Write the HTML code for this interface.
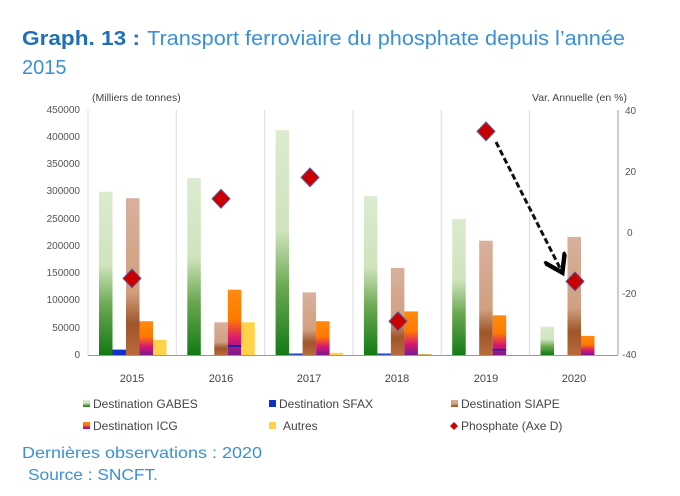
<!DOCTYPE html>
<html><head><meta charset="utf-8"><style>
body{margin:0;background:#fff;}
svg{display:block;font-family:"Liberation Sans",sans-serif;}
</style></head><body>
<svg width="680" height="496" viewBox="0 0 680 496" xmlns="http://www.w3.org/2000/svg">
<defs>
<linearGradient id="gG" x1="0" y1="0" x2="0" y2="1">
<stop offset="0" stop-color="#dcebd0"/><stop offset="0.45" stop-color="#cfe3bd"/><stop offset="0.7" stop-color="#6aa84f"/><stop offset="1" stop-color="#137a13"/></linearGradient>
<linearGradient id="gS" x1="0" y1="0" x2="0" y2="1">
<stop offset="0" stop-color="#d8b09c"/><stop offset="0.6" stop-color="#d0a080"/><stop offset="0.8" stop-color="#a0552a"/><stop offset="1" stop-color="#b86a3a"/></linearGradient>
<linearGradient id="gI" x1="0" y1="0" x2="0" y2="1">
<stop offset="0" stop-color="#ff8a10"/><stop offset="0.45" stop-color="#ff7a00"/><stop offset="0.75" stop-color="#d81870"/><stop offset="1" stop-color="#7a1a90"/></linearGradient>
<marker id="ah" markerWidth="8" markerHeight="8" refX="5" refY="4" orient="auto"><path d="M0,0 L6,4 L0,8" fill="none" stroke="#000" stroke-width="1.5"/></marker>
</defs>
<text x="22" y="45" font-size="20" fill="#1f6fb8" font-weight="bold" textLength="118" lengthAdjust="spacingAndGlyphs">Graph. 13 :</text>
<text x="147" y="45" font-size="20" fill="#3a90d6" textLength="478" lengthAdjust="spacingAndGlyphs">Transport ferroviaire du phosphate depuis l’année</text>
<text x="22" y="74" font-size="20" fill="#3a90d6">2015</text>
<text x="92" y="101" font-size="10.5" fill="#444">(Milliers de tonnes)</text>
<text x="532" y="101" font-size="10.5" fill="#444">Var. Annuelle (en %)</text>
<g font-size="10" fill="#555" text-anchor="end">
<text x="80" y="113">450000</text><text x="80" y="140">400000</text><text x="80" y="167">350000</text><text x="80" y="194">300000</text><text x="80" y="222">250000</text><text x="80" y="249">200000</text><text x="80" y="276">150000</text><text x="80" y="303">100000</text><text x="80" y="331">50000</text><text x="80" y="358">0</text>
</g>
<g font-size="10" fill="#555">
<text x="625" y="114">40</text><text x="625" y="175">20</text><text x="627" y="236">0</text><text x="622" y="297">-20</text><text x="622" y="358">-40</text>
</g>
<g stroke="#ddd" stroke-width="1">
<line x1="176.3" y1="110" x2="176.3" y2="355"/><line x1="264.6" y1="110" x2="264.6" y2="355"/><line x1="352.9" y1="110" x2="352.9" y2="355"/><line x1="441.2" y1="110" x2="441.2" y2="355"/><line x1="529.5" y1="110" x2="529.5" y2="355"/>
<line x1="88" y1="110" x2="88" y2="355"/>
</g>
<line x1="618" y1="110" x2="618" y2="355" stroke="#999"/>
<line x1="88" y1="355.5" x2="618" y2="355.5" stroke="#999"/>
<rect x="99" y="191.7" width="13.5" height="163.3" fill="url(#gG)"/>
<rect x="112.5" y="349.6" width="13.5" height="5.4" fill="#1030d0"/>
<rect x="126" y="198.2" width="13.5" height="156.8" fill="url(#gS)"/>
<rect x="139.5" y="321.2" width="13.5" height="33.8" fill="url(#gI)"/>
<rect x="153" y="339.8" width="13.5" height="15.2" fill="#ffd24a"/>
<rect x="187.3" y="178.1" width="13.5" height="176.9" fill="url(#gG)"/>
<rect x="214.3" y="322.3" width="13.5" height="32.7" fill="url(#gS)"/>
<rect x="227.8" y="289.7" width="13.5" height="65.3" fill="url(#gI)"/>
<rect x="227.8" y="345" width="13.5" height="2" fill="#2020b0"/>
<rect x="241.3" y="322.3" width="13.5" height="32.7" fill="#ffd24a"/>
<rect x="275.6" y="130.2" width="13.5" height="224.8" fill="url(#gG)"/>
<rect x="289.1" y="353.4" width="13.5" height="1.6" fill="#3050d0"/>
<rect x="302.6" y="292.4" width="13.5" height="62.6" fill="url(#gS)"/>
<rect x="316.1" y="321.2" width="13.5" height="33.8" fill="url(#gI)"/>
<rect x="329.6" y="352.8" width="13.5" height="2.2" fill="#ffd24a"/>
<rect x="363.9" y="196.1" width="13.5" height="158.9" fill="url(#gG)"/>
<rect x="377.4" y="353.4" width="13.5" height="1.6" fill="#3050d0"/>
<rect x="390.9" y="267.9" width="13.5" height="87.1" fill="url(#gS)"/>
<rect x="404.4" y="311.4" width="13.5" height="43.6" fill="url(#gI)"/>
<rect x="417.9" y="354" width="13.5" height="1" fill="#d0b060"/>
<rect x="452.2" y="218.9" width="13.5" height="136.1" fill="url(#gG)"/>
<rect x="479.2" y="240.7" width="13.5" height="114.3" fill="url(#gS)"/>
<rect x="492.7" y="315.3" width="13.5" height="39.7" fill="url(#gI)"/>
<rect x="492.7" y="349" width="13.5" height="1.5" fill="#2020b0"/>
<rect x="540.5" y="326.7" width="13.5" height="28.3" fill="url(#gG)"/>
<rect x="567.5" y="236.9" width="13.5" height="118.1" fill="url(#gS)"/>
<rect x="581" y="335.9" width="13.5" height="19.1" fill="url(#gI)"/>
<line x1="496" y1="142" x2="561" y2="270" stroke="#111" stroke-width="3" stroke-dasharray="6,3" marker-end="url(#ah)"/>
<g fill="#c80000" stroke="#5a5aa0" stroke-width="1">
<path d="M132,269 l9,9.4 l-9,9.4 l-9,-9.4z"/>
<path d="M221,189.4 l9,9.4 l-9,9.4 l-9,-9.4z"/>
<path d="M310,168 l9,9.4 l-9,9.4 l-9,-9.4z"/>
<path d="M398,311.9 l9,9.4 l-9,9.4 l-9,-9.4z"/>
<path d="M486,122 l9,9.4 l-9,9.4 l-9,-9.4z"/>
<path d="M575,272 l9,9.4 l-9,9.4 l-9,-9.4z"/>
</g>
<g font-size="11" fill="#444" text-anchor="middle">
<text x="132" y="382">2015</text><text x="221" y="382">2016</text><text x="309" y="382">2017</text><text x="397" y="382">2018</text><text x="486" y="382">2019</text><text x="574" y="382">2020</text>
</g>
<g font-size="12" fill="#444">
<rect x="83" y="400" width="7" height="7" fill="url(#gG)"/><text x="93" y="408">Destination GABES</text>
<rect x="269" y="400" width="7" height="7" fill="#1030c0"/><text x="279" y="408">Destination SFAX</text>
<rect x="451" y="400" width="7" height="7" fill="url(#gS)"/><text x="461" y="408">Destination SIAPE</text>
<rect x="83" y="422" width="7" height="7" fill="url(#gI)"/><text x="93" y="430">Destination ICG</text>
<rect x="269" y="422" width="7" height="7" fill="#ffd24a"/><text x="283" y="430">Autres</text>
<path d="M454,422 l4,4 l-4,4 l-4,-4z" fill="#c80000"/><text x="461" y="430">Phosphate (Axe D)</text>
</g>
<text x="22" y="458" font-size="16" fill="#3a90d6" textLength="240" lengthAdjust="spacingAndGlyphs">Dernières observations : 2020</text>
<text x="28" y="480" font-size="16" fill="#3a90d6" textLength="130" lengthAdjust="spacingAndGlyphs">Source : SNCFT.</text>
</svg>
</body></html>
